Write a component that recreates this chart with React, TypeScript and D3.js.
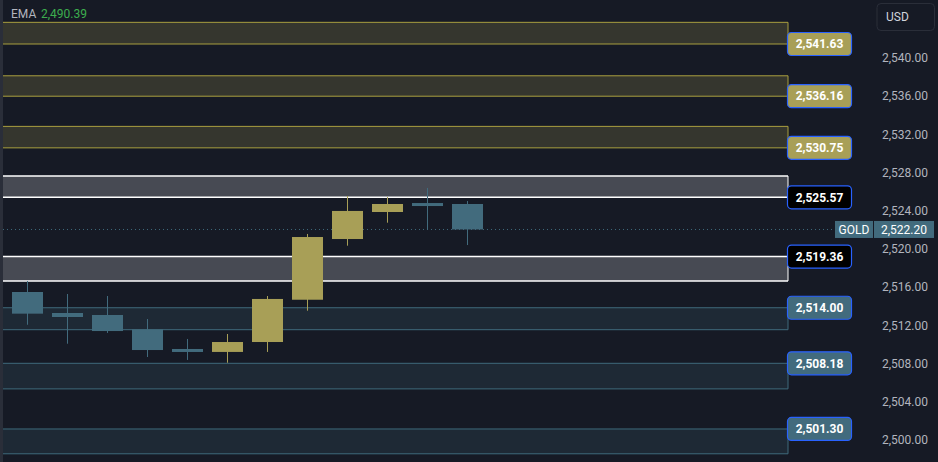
import React from "react";
import * as d3 from "d3";

const W = 938;
const H = 462;

// OHLC candles
const opens = [2515.65, 2513.45, 2513.24, 2511.74, 2509.68, 2509.37, 2510.41, 2514.84, 2521.2, 2524.03, 2524.97, 2524.87];
const highs = [2516.8, 2515.44, 2515.23, 2512.82, 2510.73, 2511.25, 2515.23, 2521.73, 2525.71, 2525.6, 2526.55, 2525.18];
const lows = [2512.22, 2510.23, 2511.36, 2508.84, 2508.53, 2508.24, 2509.37, 2513.69, 2520.5, 2522.91, 2522.15, 2520.57];
const closes = [2513.38, 2513.03, 2511.56, 2509.57, 2509.37, 2510.41, 2514.92, 2521.41, 2524.14, 2524.87, 2524.66, 2522.2];

// zones: level (labelled) and far edge
const zoneLevels = [2541.63, 2536.16, 2530.75, 2525.57, 2519.36, 2514.0, 2508.18, 2501.3];
const zoneEdges = [2543.9, 2538.3, 2533.0, 2527.8, 2516.8, 2511.7, 2505.5, 2498.7];
const zoneKinds = ["res", "res", "res", "gray", "gray", "sup", "sup", "sup"];

const yTicks = [2540, 2536, 2532, 2528, 2524, 2520, 2516, 2512, 2508, 2504, 2500];
const lastPrice = 2522.2;
const emaValue = "2,490.39";

const BG = "#161a25";
const BULL = "#a89f57";
const BEAR = "#426b7d";
const FONT = "Roboto, 'Noto Sans', sans-serif";

const styles: Record<string, { fill: string; stroke: string; sw: number; labelFill: string }> = {
  res: { fill: "#35362e", stroke: "#a99f3f", sw: 1, labelFill: "#a89f57" },
  gray: { fill: "#474a53", stroke: "#ffffff", sw: 1.5, labelFill: "#000000" },
  sup: { fill: "#1e2935", stroke: "#3f6a7c", sw: 1, labelFill: "#426b7d" },
};

const fmt = d3.format(",.2f");

export default function App() {
  const y = d3.scaleLinear().domain([2497.84, 2546.24]).range([H, 0]);
  const x = d3
    .scaleBand<number>()
    .domain(d3.range(12))
    .range([7.5, 487.5])
    .paddingInner(0.225)
    .paddingOuter(0.1125);
  const zoneRight = 788;

  return (
    <svg
      width={W}
      height={H}
      style={{ position: "absolute", left: 0, top: 0, display: "block" }}
      fontFamily={FONT}
    >
      <rect x={0} y={0} width={W} height={H} fill={BG} />
      <rect x={0} y={0} width={3} height={H} fill="#2a2e39" />

      {/* zones */}
      {zoneLevels.map((lv, i) => {
        const s = styles[zoneKinds[i]];
        const y1 = y(Math.max(lv, zoneEdges[i]));
        const y2 = y(Math.min(lv, zoneEdges[i]));
        return (
          <g key={"z" + i}>
            <rect x={3} y={y1} width={zoneRight - 3} height={y2 - y1} fill={s.fill} />
            <line x1={3} x2={zoneRight} y1={y1} y2={y1} stroke={s.stroke} strokeWidth={s.sw} />
            <line x1={3} x2={zoneRight} y1={y2} y2={y2} stroke={s.stroke} strokeWidth={s.sw} />
            <line x1={zoneRight} x2={zoneRight} y1={y1} y2={y2} stroke={s.stroke} strokeWidth={1} />
          </g>
        );
      })}

      {/* last price dotted line */}
      <line
        x1={3}
        x2={835}
        y1={y(lastPrice)}
        y2={y(lastPrice)}
        stroke="#3f6a7c"
        strokeWidth={1}
        strokeDasharray="1 3"
      />

      {/* candles */}
      {opens.map((o, i) => {
        const c = closes[i];
        const color = c >= o ? BULL : BEAR;
        const cx = (x(i) as number) + x.bandwidth() / 2;
        const top = y(Math.max(o, c));
        const bot = y(Math.min(o, c));
        return (
          <g key={"c" + i}>
            <line x1={cx} x2={cx} y1={y(highs[i])} y2={y(lows[i])} stroke={color} strokeWidth={1} />
            <rect x={x(i)} y={top} width={x.bandwidth()} height={Math.max(bot - top, 3)} fill={color} />
          </g>
        );
      })}

      {/* zone labels */}
      {zoneLevels.map((lv, i) => {
        const s = styles[zoneKinds[i]];
        const cy = y(lv);
        return (
          <g key={"l" + i}>
            <rect x={787.5} y={cy - 11.5} width={64} height={23} rx={4} fill={s.labelFill} stroke="#2962ff" strokeWidth={1.2} />
            <text x={819.5} y={cy} dy="0.35em" textAnchor="middle" fill="#ffffff" fontSize={12} fontWeight="bold">
              {fmt(lv)}
            </text>
          </g>
        );
      })}

      {/* axis ticks */}
      {yTicks.map((t) => (
        <text key={"t" + t} x={928} y={y(t) - 1.5} dy="0.35em" textAnchor="end" fill="#b2b5be" fontSize={12}>
          {fmt(t)}
        </text>
      ))}

      {/* last price label */}
      <rect x={835} y={y(lastPrice) - 8.5} width={38} height={17} fill="#426b7d" />
      <text x={854} y={y(lastPrice)} dy="0.35em" textAnchor="middle" fill="#ffffff" fontSize={12}>
        GOLD
      </text>
      <rect x={874} y={y(lastPrice) - 8.5} width={60} height={17} fill="#426b7d" />
      <text x={904} y={y(lastPrice)} dy="0.35em" textAnchor="middle" fill="#ffffff" fontSize={12}>
        {fmt(lastPrice)}
      </text>

      {/* USD box */}
      <rect x={877} y={3.5} width={57.5} height={27} rx={4} fill={BG} stroke="#2a2e39" strokeWidth={1} />
      <text x={886} y={17} dy="0.35em" fill="#d1d4dc" fontSize={12}>
        USD
      </text>

      {/* legend */}
      <text x={11} y={14} dy="0.35em" fill="#b2b5be" fontSize={12}>
        EMA
      </text>
      <text x={41} y={14} dy="0.35em" fill="#3dae4e" fontSize={12}>
        {emaValue}
      </text>
    </svg>
  );
}
